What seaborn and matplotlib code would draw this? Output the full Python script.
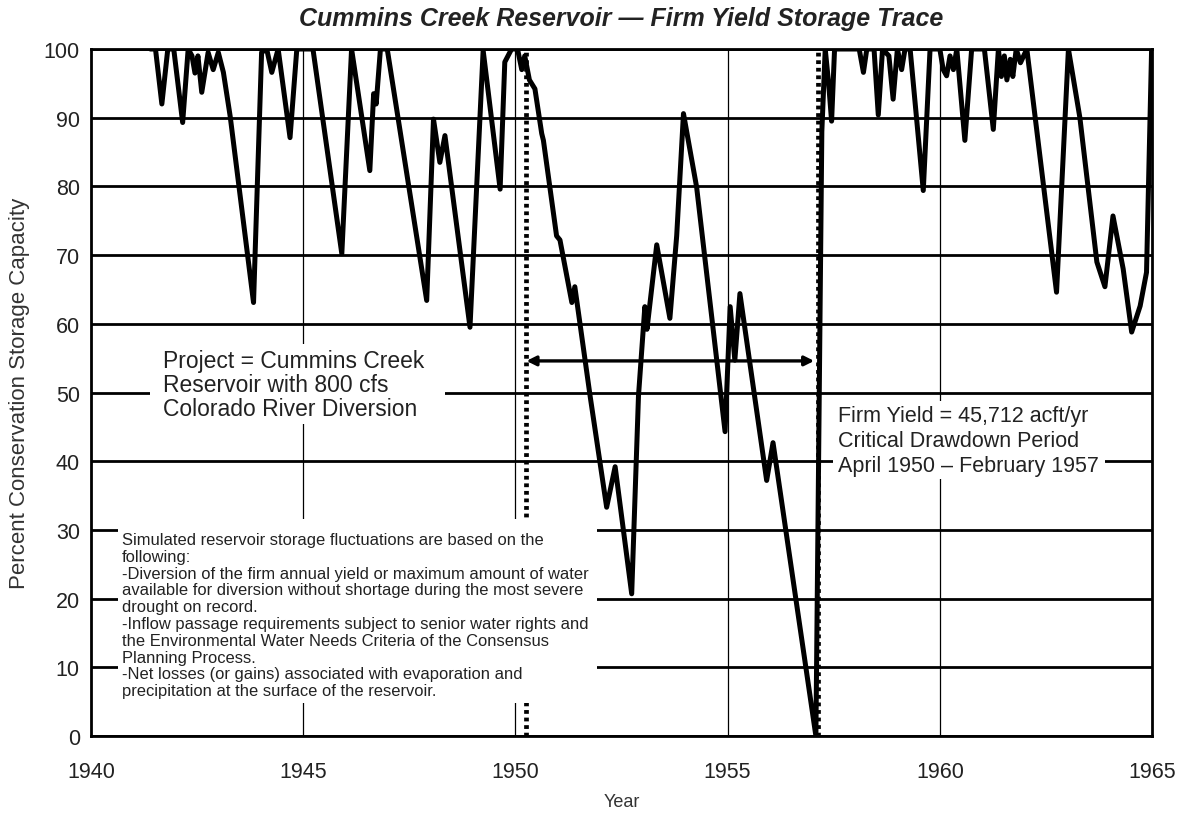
"""
Cummins Creek Reservoir - firm yield storage trace.
Redraws the storage trace chart and saves it as out.png.
"""

import matplotlib.pyplot as plt
import seaborn as sns
from matplotlib.patches import Rectangle

# 1. Data (turning points of the storage trace)
YEARS = [
    1941.40, 1941.52, 1941.67, 1941.81, 1941.95, 1942.16, 1942.29, 1942.38,
    1942.45, 1942.52, 1942.61, 1942.76, 1942.88, 1943.00, 1943.12, 1943.28,
    1943.83, 1944.02, 1944.14, 1944.26, 1944.41, 1944.69, 1944.85, 1945.23,
    1945.91, 1946.14, 1946.57, 1946.66, 1946.72, 1946.82, 1946.98, 1947.91,
    1948.07, 1948.22, 1948.34, 1948.93, 1949.24, 1949.64, 1949.75, 1949.91,
    1950.05, 1950.15, 1950.22, 1950.33, 1950.46, 1950.62, 1950.66, 1950.97,
    1951.05, 1951.33, 1951.40, 1951.76, 1952.15, 1952.35, 1952.74, 1952.90,
    1953.05, 1953.10, 1953.33, 1953.64, 1953.80, 1953.96, 1954.27, 1954.94,
    1955.06, 1955.17, 1955.29, 1955.92, 1956.07, 1957.08, 1957.22, 1957.30,
    1957.38, 1957.45, 1957.52, 1958.10, 1958.20, 1958.28, 1958.45, 1958.55,
    1958.65, 1958.80, 1958.90, 1959.00, 1959.10, 1959.18, 1959.30, 1959.61,
    1959.77, 1960.00, 1960.08, 1960.16, 1960.24, 1960.32, 1960.40, 1960.59,
    1960.75, 1961.05, 1961.26, 1961.38, 1961.45, 1961.52, 1961.58, 1961.66,
    1961.72, 1961.80, 1961.90, 1962.05, 1962.75, 1963.03, 1963.30, 1963.70,
    1963.89, 1964.08, 1964.32, 1964.52, 1964.72, 1964.87, 1964.99,
]
STORAGE_PCT = [
    100, 100, 92.0, 100, 100, 89.3, 100, 99,
    96.5, 99, 93.7, 99.5, 97.0, 99.5, 96.6, 90.2,
    63.1, 99.5, 100, 96.6, 100, 87.1, 100, 100,
    70.2, 100, 82.3, 93.5, 92.0, 100, 100, 63.4,
    89.8, 83.5, 87.4, 59.5, 99.8, 79.6, 98.1, 100,
    100, 97.0, 99, 95.5, 94.2, 87.7, 86.7, 72.8,
    72.2, 63.1, 65.4, 49.5, 33.3, 39.2, 20.7, 49.5,
    62.5, 59.2, 71.5, 60.8, 72.8, 90.6, 79.9, 44.3,
    62.5, 54.7, 64.4, 37.2, 42.7, 0, 88, 100,
    95, 89.5, 100, 100, 96.6, 100, 100, 90.4,
    100, 99, 92.7, 100, 97, 100, 100, 79.4,
    100, 100, 97, 96.1, 99, 97, 100, 86.7,
    100, 100, 88.3, 100, 96, 99, 95.5, 98.5,
    96, 100, 98, 100, 64.6, 100, 90, 69.0,
    65.4, 75.7, 68.0, 58.8, 62.6, 67.5, 100,
]

# Critical drawdown period (April 1950 - February 1957)
CRITICAL_START = 1950.26
CRITICAL_END = 1957.12
ARROW_LEVEL = 54.6

X_TICKS = [1940, 1945, 1950, 1955, 1960, 1965]
Y_TICKS = list(range(0, 101, 10))
V_GRID = [1945, 1950, 1955, 1960]

TITLE = "Cummins Creek Reservoir \u2014 Firm Yield Storage Trace"
PROJECT_TEXT = "Project = Cummins Creek\nReservoir with 800 cfs\nColorado River Diversion"
YIELD_TEXT = ("Firm Yield = 45,712 acft/yr\nCritical Drawdown Period\n"
              "April 1950 \u2013 February 1957")
NOTES_TEXT = (
    "Simulated reservoir storage fluctuations are based on the\n"
    "following:\n"
    "-Diversion of the firm annual yield or maximum amount of water\n"
    "available for diversion without shortage during the most severe\n"
    "drought on record.\n"
    "-Inflow passage requirements subject to senior water rights and\n"
    "the Environmental Water Needs Criteria of the Consensus\n"
    "Planning Process.\n"
    "-Net losses (or gains) associated with evaporation and\n"
    "precipitation at the surface of the reservoir."
)


# white area behind a text block, hides the grid (x0, y0, x1, y1 in data units)
def tapar(ax, x0, y0, x1, y1):
    ax.add_patch(Rectangle((x0, y0), x1 - x0, y1 - y0, facecolor="white",
                           edgecolor="none", zorder=3))


# 2. Chart
def dibujar():
    sns.set_style("white")
    plt.rcParams["font.family"] = ["Liberation Sans", "DejaVu Sans"]

    fig = plt.figure(figsize=(11.8, 8.2), dpi=100)
    ax = fig.add_axes([0.0771, 0.1012, 0.8992, 0.8378])

    # grid: thick horizontal, thin vertical
    for v in Y_TICKS:
        ax.axhline(v, color="black", lw=2.0, zorder=1)
    for x in V_GRID:
        ax.axvline(x, color="black", lw=0.9, zorder=1)

    # critical period markers
    for x in (CRITICAL_START, CRITICAL_END):
        ax.plot([x, x], [0, 100], color="black", lw=3.4,
                linestyle=(0, (0.8, 0.8)), zorder=2)

    sns.lineplot(x=YEARS, y=STORAGE_PCT, ax=ax, color="black", lw=3.6,
                 estimator=None, sort=False, zorder=4)

    ax.annotate("", xy=(CRITICAL_END - 0.08, ARROW_LEVEL),
                xytext=(CRITICAL_START, ARROW_LEVEL),
                arrowprops=dict(arrowstyle="<|-|>", color="black", lw=2.4,
                                mutation_scale=14, shrinkA=0, shrinkB=0),
                zorder=5)

    # text blocks
    tapar(ax, 1941.39, 45.4, 1948.34, 57.0)
    ax.text(1941.70, 51.2, PROJECT_TEXT, fontsize=16.5, color="#222222",
            ha="left", va="center", linespacing=1.05, zorder=3.5)

    tapar(ax, 1957.48, 37.4, 1963.90, 48.8)
    ax.text(1957.60, 43.0, YIELD_TEXT, fontsize=15.5, color="#222222",
            ha="left", va="center", linespacing=1.27, zorder=3.5)

    tapar(ax, 1940.64, 4.8, 1951.92, 31.6)
    ax.text(1940.73, 17.6, NOTES_TEXT, fontsize=11.9, color="#222222",
            ha="left", va="center", linespacing=1.15, zorder=3.5)

    ax.set_xlim(1940, 1965)
    ax.set_ylim(0, 100)
    ax.set_xticks(X_TICKS)
    ax.set_yticks(Y_TICKS)
    ax.tick_params(axis="both", labelsize=15.5, colors="#222222",
                   direction="out", length=4, width=1.2)
    ax.tick_params(axis="x", pad=14)
    ax.tick_params(axis="y", pad=4)
    for lado in ax.spines.values():
        lado.set_color("black")
        lado.set_linewidth(2.0)

    ax.set_xlabel("Year", fontsize=13, color="#333333", labelpad=8)
    ax.set_ylabel("Percent Conservation Storage Capacity", fontsize=16,
                  color="#333333", labelpad=10)
    ax.set_title(TITLE, fontsize=18, fontweight="bold", fontstyle="italic",
                 color="#222222", pad=17)

    fig.savefig("out.png", dpi=100)
    plt.close(fig)


def main():
    dibujar()


if __name__ == "__main__":
    main()
